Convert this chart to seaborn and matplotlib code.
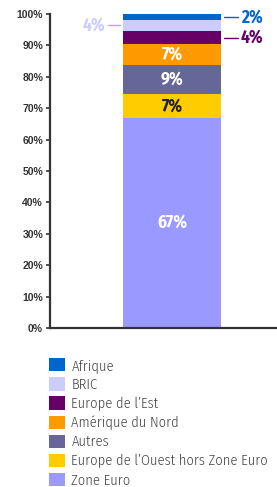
import matplotlib
matplotlib.use("Agg")
import matplotlib.pyplot as plt
import seaborn as sns
import numpy as np
import pandas as pd
from matplotlib.patches import Patch

# Data (bottom to top)
categories = ["Zone Euro", "Europe de l\u2019Ouest hors Zone Euro", "Autres",
              "Am\u00e9rique du Nord", "Europe de l\u2019Est", "BRIC", "Afrique"]
values = [66.9, 7.6, 9.3, 6.6, 4.2, 3.5, 1.9]
labels = ["67%", "7%", "9%", "7%", "4%", "4%", "2%"]
colors = ["#9999FF", "#FFCC00", "#666699", "#FF9900", "#660066", "#CCCCFF", "#0066CC"]
label_colors = ["white", "#222222", "white", "white", "#660066", "#CCCCFF", "#0066CC"]
yticks = [0, 10, 20, 30, 40, 50, 60, 70, 80, 90, 100]

COND = ['Fira Sans Condensed', 'DejaVu Sans']

sns.set_theme(style="white")
plt.rcParams['font.family'] = COND

fig = plt.figure(figsize=(2.77, 4.87), dpi=100)
ax = fig.add_axes([50/277, 1-328/487, 227/277, (328-14)/487])

cum = np.cumsum(values)
bottoms = cum - np.array(values)
# Draw cumulative totals from top to bottom so each layer shows
for i in range(len(values) - 1, -1, -1):
    df = pd.DataFrame({"x": ["A"], "y": [cum[i]]})
    sns.barplot(data=df, x="x", y="y", color=colors[i], width=0.98,
                saturation=1, ax=ax, linewidth=0)

ax.set_xlim(-1.22, 1.05)
ax.set_ylim(0, 100)
ax.set_yticks(yticks)
ax.set_yticklabels([f"{t}%" for t in yticks], fontfamily='Liberation Sans',
                   fontweight='bold', fontsize=7.5, color="#333333")
ax.set_xticks([])
ax.set_xlabel("")
ax.set_ylabel("")
for s in ["top", "right"]:
    ax.spines[s].set_visible(False)
for s in ["left", "bottom"]:
    ax.spines[s].set_color("#333333")
    ax.spines[s].set_linewidth(1.6)
ax.tick_params(axis='y', left=True, length=3, width=1.2, color="#333333", pad=2)

# Inside labels
for i in [0, 1, 2, 3]:
    ax.text(0, bottoms[i] + values[i] / 2, labels[i], ha='center', va='center',
            color=label_colors[i], fontsize=12.5, fontweight='bold')

# Outside labels with leader lines
def outside(i, side):
    y = bottoms[i] + values[i] / 2
    if side == 'right':
        ax.plot([0.52, 0.66], [y, y], color=label_colors[i], lw=1, clip_on=False)
        ax.text(0.69, y, labels[i], ha='left', va='center', color=label_colors[i],
                fontsize=12.5, fontweight='bold')
    else:
        ax.plot([-0.52, -0.64], [y, y], color="#CC99EE", lw=1, clip_on=False)
        ax.text(-0.67, y, labels[i], ha='right', va='center', color=label_colors[i],
                fontsize=12.5, fontweight='bold')

outside(6, 'right')
outside(4, 'right')
outside(5, 'left')

# Legend (top entry = Afrique)
handles = [Patch(facecolor=colors[i], edgecolor='none', label=categories[i])
           for i in range(len(values) - 1, -1, -1)]
fig.legend(handles=handles, loc='upper left', bbox_to_anchor=(49/277, 1-358/487),
           frameon=False, prop={'family': COND, 'size': 10.4, 'weight': 300},
           handlelength=1.1, handleheight=1.05,
           handletextpad=0.45, labelspacing=0.32, borderaxespad=0, borderpad=0,
           labelcolor="#444444")

fig.savefig("out.png", dpi=100)
